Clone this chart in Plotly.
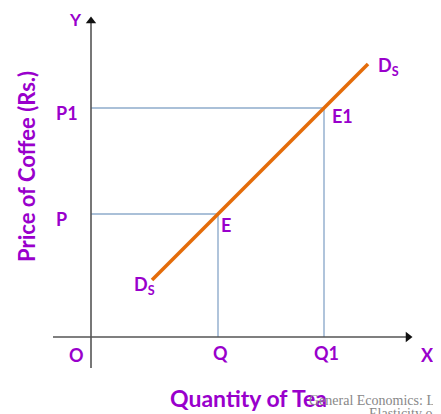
import plotly.graph_objects as go

# supply curve of tea against price of coffee (chart units, origin at O)
curve_q = [6.1, 27.7]
curve_p = [5.7, 27.3]

# equilibrium points
eq_labels = ["E", "E1"]
eq_q = [12.7, 23.3]
eq_p = [12.3, 22.9]

price_ticks = ["P", "P1"]
qty_ticks = ["Q", "Q1"]

x_axis_end = 32.1
y_axis_end = 32.0

PURPLE = "#9900cc"
ORANGE = "#e46c0a"
GUIDE = "#8faccc"
AXIS = "#555555"
FONT = "Lato, Calibri, sans-serif"

fig = go.Figure()

# guide lines from the axes to each equilibrium point
for q, p in zip(eq_q, eq_p):
    fig.add_trace(go.Scatter(
        x=[0, q, q], y=[p, p, 0], mode="lines",
        line={"color": GUIDE, "width": 1.4}, hoverinfo="skip",
    ))

fig.add_trace(go.Scatter(
    x=curve_q, y=curve_p, mode="lines",
    line={"color": ORANGE, "width": 3.5}, hoverinfo="skip",
))

# axes with arrow heads
fig.add_trace(go.Scatter(x=[-3.8, x_axis_end - 0.5], y=[0, 0], mode="lines",
                         line={"color": AXIS, "width": 1.6}, hoverinfo="skip"))
fig.add_trace(go.Scatter(x=[0, 0], y=[-3.1, y_axis_end - 0.5], mode="lines",
                         line={"color": AXIS, "width": 1.6}, hoverinfo="skip"))
fig.add_trace(go.Scatter(x=[x_axis_end - 0.4], y=[0], mode="markers",
                         marker={"symbol": "triangle-right", "size": 9, "color": "#111111"},
                         hoverinfo="skip"))
fig.add_trace(go.Scatter(x=[0], y=[y_axis_end - 0.4], mode="markers",
                         marker={"symbol": "triangle-up", "size": 9, "color": "#111111"},
                         hoverinfo="skip"))


def label(x, y, text, size=18, **kw):
    fig.add_annotation(x=x, y=y, text=text, showarrow=False,
                       font={"family": FONT, "size": size, "color": PURPLE, "weight": "bold"}, **kw)


label(-1.6, y_axis_end - 0.2, "Y", size=17)
label(x_axis_end + 1.5, -1.8, "X")
label(-1.5, -1.8, "O")
for name, p in zip(price_ticks, eq_p):
    label(-3.7, p - 0.5, name, xanchor="left")
for name, q in zip(qty_ticks, eq_q):
    label(q + 0.2, -1.6, name)
label(eq_q[0] + 0.1, eq_p[0] - 1.1, eq_labels[0], xanchor="left")
label(eq_q[1] + 0.6, eq_p[1] - 0.8, eq_labels[1], xanchor="left")
label(curve_q[1] + 0.8, curve_p[1] - 0.2, "D<sub>S</sub>", xanchor="left")
label(curve_q[0] - 2.0, curve_p[0] - 0.5, "D<sub>S</sub>", xanchor="left")

label(-6.5, 17.0, "Price of Coffee (Rs.)", size=22, textangle=-90)
label(15.7, -6.1, "Quantity of Tea", size=23)

fig.add_annotation(x=21.6, y=-6.3, xanchor="left", text="General Economics: Law of Supply",
                   showarrow=False, font={"family": "Liberation Serif, serif", "size": 14, "color": "#888888"})
fig.add_annotation(x=27.6, y=-7.6, xanchor="left", text="Elasticity of Supply",
                   showarrow=False, font={"family": "Liberation Serif, serif", "size": 14, "color": "#888888"})

# the page body keeps an 8px margin, so the figure is 8px smaller than the window
fig.update_layout(
    width=433, height=406,
    margin={"l": 0, "r": 0, "t": 0, "b": 0},
    paper_bgcolor="white", plot_bgcolor="white",
    showlegend=False,
    xaxis={"visible": False, "range": [-8.3, 35.0], "fixedrange": True},
    yaxis={"visible": False, "range": [-7.7, 32.9], "fixedrange": True},
)

fig.write_html("out.html", config={"displayModeBar": False})
